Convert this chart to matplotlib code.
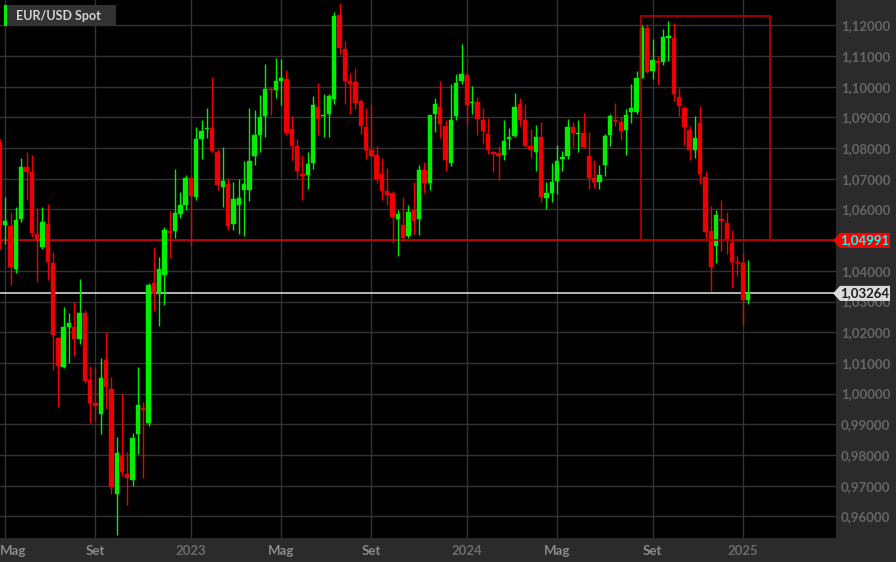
import matplotlib
matplotlib.use('Agg')
import matplotlib.pyplot as plt
import matplotlib.transforms as mtransforms
from matplotlib.patches import Rectangle, Polygon
from matplotlib.ticker import FuncFormatter, FixedLocator
import numpy as np

plt.rcParams['font.family'] = ['Lato', 'DejaVu Sans']

# Weekly EUR/USD candles, Apr 2022 -> Jan 2025
opens = [1.0815, 1.0549, 1.0546, 1.0405, 1.0568, 1.0739, 1.0723, 1.0519, 1.0479, 1.0552,
         1.0424, 1.0182, 1.0088, 1.0216, 1.0217, 1.0179, 1.0261, 1.0044, 0.9970, 0.9933,
         1.0109, 1.0015, 0.9673, 0.9797, 0.9738, 0.9719, 0.9868, 0.9953, 0.9903, 1.0360,
         1.0323, 1.0385, 1.0530, 1.0530, 1.0585, 1.0616, 1.0701, 1.0639, 1.0831, 1.0863,
         1.0865, 1.0788, 1.0673, 1.0684, 1.0551, 1.0616, 1.0664, 1.0662, 1.0775, 1.0843,
         1.0903, 1.0991, 1.0990, 1.1018, 1.1026, 1.0862, 1.0806, 1.0716, 1.0713, 1.0750,
         1.0935, 1.0906, 1.0911, 1.0960, 1.1233, 1.1124, 1.1020, 1.1014, 1.0953, 1.0870,
         1.0795, 1.0778, 1.0715, 1.0661, 1.0653, 1.0570, 1.0550, 1.0514, 1.0597, 1.0568,
         1.0728, 1.0685, 1.0911, 1.0935, 1.0872, 1.0751, 1.0903, 1.1018, 1.1039, 1.0946,
         1.0949, 1.0890, 1.0845, 1.0786, 1.0785, 1.0778, 1.0829, 1.0839, 1.0942, 1.0890,
         1.0808, 1.0788, 1.0837, 1.0637, 1.0655, 1.0693, 1.0763, 1.0773, 1.0868, 1.0846,
         1.0849, 1.0775, 1.0704, 1.0688, 1.0746, 1.0841, 1.0892, 1.0884, 1.0859, 1.0916,
         1.0916, 1.1029, 1.1190, 1.1050, 1.1083, 1.1080, 1.1160, 1.1160, 1.0966, 1.0932,
         1.0860, 1.0794, 1.0883, 1.0707, 1.0530, 1.0481, 1.0569, 1.0557, 1.0491, 1.0430,
         1.0427, 1.0306]
highs = [1.0830, 1.0642, 1.0593, 1.0609, 1.0766, 1.0788, 1.0777, 1.0604, 1.0607, 1.0617,
         1.0462, 1.0185, 1.0281, 1.0261, 1.0297, 1.0372, 1.0271, 1.0091, 1.0082, 1.0115,
         1.0200, 1.0054, 0.9857, 1.0001, 0.9811, 0.9872, 1.0088, 0.9971, 1.0359, 1.0479,
         1.0446, 1.0543, 1.0594, 1.0733, 1.0658, 1.0712, 1.0705, 1.0868, 1.0890, 1.0930,
         1.1032, 1.0797, 1.0803, 1.0704, 1.0691, 1.0698, 1.0758, 1.0930, 1.0924, 1.0972,
         1.1075, 1.0998, 1.1094, 1.1091, 1.1055, 1.0904, 1.0830, 1.0778, 1.0786, 1.0969,
         1.1012, 1.0976, 1.0975, 1.1244, 1.1273, 1.1149, 1.1044, 1.1061, 1.0960, 1.0931,
         1.0944, 1.0808, 1.0768, 1.0735, 1.0660, 1.0598, 1.0639, 1.0614, 1.0691, 1.0745,
         1.0753, 1.0908, 1.0964, 1.1017, 1.0892, 1.1009, 1.1040, 1.1140, 1.1044, 1.1001,
         1.0966, 1.0930, 1.0898, 1.0792, 1.0808, 1.0890, 1.0866, 1.0980, 1.0964, 1.0942,
         1.0862, 1.0875, 1.0884, 1.0688, 1.0750, 1.0810, 1.0791, 1.0895, 1.0884, 1.0890,
         1.0914, 1.0851, 1.0761, 1.0746, 1.0846, 1.0911, 1.0947, 1.0900, 1.0928, 1.1009,
         1.1050, 1.1200, 1.1203, 1.1156, 1.1100, 1.1189, 1.1214, 1.1208, 1.0995, 1.0936,
         1.0871, 1.0905, 1.0936, 1.0726, 1.0610, 1.0598, 1.0630, 1.0593, 1.0532, 1.0447,
         1.0457, 1.0434]
lows = [1.0470, 1.0487, 1.0354, 1.0392, 1.0560, 1.0631, 1.0511, 1.0365, 1.0470, 1.0370,
        1.0077, 0.9957, 1.0082, 1.0099, 1.0124, 1.0162, 1.0033, 0.9903, 0.9912, 0.9867,
        0.9949, 0.9673, 0.9538, 0.9731, 0.9637, 0.9699, 0.9802, 0.9725, 0.9894, 1.0269,
        1.0219, 1.0289, 1.0442, 1.0506, 1.0571, 1.0597, 1.0481, 1.0631, 1.0765, 1.0834,
        1.0786, 1.0664, 1.0609, 1.0534, 1.0532, 1.0521, 1.0515, 1.0628, 1.0745, 1.0786,
        1.0835, 1.0908, 1.0963, 1.0941, 1.0844, 1.0761, 1.0702, 1.0631, 1.0666, 1.0732,
        1.0844, 1.0835, 1.0835, 1.0944, 1.1107, 1.0944, 1.0911, 1.0928, 1.0846, 1.0764,
        1.0770, 1.0685, 1.0630, 1.0615, 1.0489, 1.0448, 1.0497, 1.0508, 1.0521, 1.0516,
        1.0655, 1.0663, 1.0851, 1.0832, 1.0726, 1.0741, 1.0892, 1.1009, 1.0876, 1.0911,
        1.0844, 1.0813, 1.0781, 1.0721, 1.0696, 1.0761, 1.0797, 1.0835, 1.0873, 1.0802,
        1.0768, 1.0726, 1.0623, 1.0601, 1.0623, 1.0650, 1.0726, 1.0764, 1.0802, 1.0786,
        1.0800, 1.0666, 1.0670, 1.0666, 1.0708, 1.0806, 1.0873, 1.0826, 1.0777, 1.0881,
        1.0911, 1.1028, 1.1044, 1.1026, 1.1004, 1.1069, 1.1083, 1.0952, 1.0903, 1.0811,
        1.0761, 1.0768, 1.0683, 1.0497, 1.0334, 1.0424, 1.0463, 1.0454, 1.0343, 1.0382,
        1.0224, 1.0293]
closes = [1.0545, 1.0563, 1.0413, 1.0566, 1.0737, 1.0723, 1.0524, 1.0499, 1.0559, 1.0430,
          1.0190, 1.0091, 1.0217, 1.0229, 1.0179, 1.0261, 1.0042, 0.9968, 0.9959, 1.0050,
          1.0020, 0.9694, 0.9805, 0.9746, 0.9725, 0.9855, 0.9962, 0.9945, 1.0353, 1.0325,
          1.0407, 1.0532, 1.0524, 1.0589, 1.0614, 1.0703, 1.0645, 1.0831, 1.0857, 1.0865,
          1.0791, 1.0679, 1.0692, 1.0546, 1.0633, 1.0636, 1.0682, 1.0758, 1.0842, 1.0900,
          1.0993, 1.0988, 1.1017, 1.1027, 1.0848, 1.0806, 1.0726, 1.0708, 1.0748, 1.0941,
          1.0895, 1.0909, 1.0968, 1.1229, 1.1126, 1.1017, 1.1009, 1.0947, 1.0873, 1.0795,
          1.0775, 1.0699, 1.0661, 1.0648, 1.0574, 1.0585, 1.0508, 1.0592, 1.0563, 1.0728,
          1.0685, 1.0907, 1.0943, 1.0879, 1.0762, 1.0893, 1.1012, 1.1040, 1.0940, 1.0951,
          1.0895, 1.0854, 1.0794, 1.0781, 1.0775, 1.0822, 1.0837, 1.0935, 1.0890, 1.0808,
          1.0794, 1.0837, 1.0641, 1.0653, 1.0691, 1.0759, 1.0772, 1.0868, 1.0848, 1.0850,
          1.0802, 1.0704, 1.0690, 1.0713, 1.0838, 1.0906, 1.0887, 1.0857, 1.0909, 1.0930,
          1.1028, 1.1192, 1.1047, 1.1086, 1.1077, 1.1162, 1.1164, 1.0975, 1.0936, 1.0868,
          1.0795, 1.0833, 1.0717, 1.0528, 1.0413, 1.0581, 1.0563, 1.0500, 1.0429, 1.0425,
          1.0306, 1.03264]

tick_bars = [1, 18, 36, 53, 70, 88, 105, 123, 140]
tick_labels = ['Mag', 'Set', '2023', 'Mag', 'Set', '2024', 'Mag', 'Set', '2025']
price_ticks = [round(0.96 + 0.01 * i, 2) for i in range(17)]

last_price = 1.03264
level_price = 1.04991
box_top = 1.1230
box_start_bar = 120.85
box_end_bar = 145.15

UP = '#00ee00'
DOWN = '#ee0000'

W, H = 896, 562
fig = plt.figure(figsize=(W / 100, H / 100), dpi=100, facecolor='#2b2b2b')
ax = fig.add_axes([0, 24 / H, 836 / W, 538 / H])
ax.set_facecolor('#000000')

o = np.array(opens); h = np.array(highs); l = np.array(lows); c = np.array(closes)
x = np.arange(len(o))
up = c >= o
cols = np.where(up, UP, DOWN)

ax.set_xlim(0, 836 / 5.305)
ax.set_ylim(0.95294, 1.12824)

# grid
for t in price_ticks:
    ax.axhline(t, color='#333333', lw=1, zorder=0)
for t in tick_bars:
    ax.axvline(t, color='#333333', lw=1, zorder=0)

# level lines
ax.axhline(level_price, color='#e00000', lw=1.1, zorder=1)
ax.axhline(last_price, color='#e6e6e6', lw=1.1, zorder=1)

# candles
ax.vlines(x, l, h, colors=cols, lw=1, zorder=2)
body_lo = np.minimum(o, c)
body_h = np.maximum(np.abs(c - o), 0.00025)
ax.bar(x, body_h, bottom=body_lo, width=0.82, color=cols, edgecolor=cols,
       linewidth=0.3, zorder=3)

# highlight rectangle
ax.add_patch(Rectangle((box_start_bar, level_price), box_end_bar - box_start_bar,
                       box_top - level_price, fill=False, ec='#b00000', lw=1.3, zorder=4))

# axes styling
for s in ax.spines.values():
    s.set_visible(False)
ax.yaxis.tick_right()
ax.yaxis.set_major_locator(FixedLocator(price_ticks))
ax.yaxis.set_major_formatter(FuncFormatter(lambda v, p: f"{v:.5f}".replace('.', ',')))
ax.tick_params(axis='y', length=0, pad=3.6, labelsize=9.5, labelcolor='#666666')
ax.xaxis.set_major_locator(FixedLocator(tick_bars))
ax.set_xticklabels(tick_labels)
ax.tick_params(axis='x', length=0, pad=5, labelsize=9.5, labelcolor='#8a8a8a')
for lab in ax.get_yticklabels() + ax.get_xticklabels():
    lab.set_fontweight('bold')
for lab in ax.get_xticklabels():
    if lab.get_text().isdigit():
        lab.set_color('#6c6c6c')
first = ax.get_xticklabels()[0]
first.set_ha('left')
first.set_transform(first.get_transform() + mtransforms.ScaledTranslation(-5.5 / 100, 0, fig.dpi_scale_trans))

# price markers on right axis
blend = mtransforms.blended_transform_factory(fig.transFigure, ax.transData)
hh = 0.00245
def marker(price, fc, tc):
    xs = [833 / W, 840 / W, 890 / W, 890 / W, 840 / W]
    ys = [price, price + hh, price + hh, price - hh, price - hh]
    fig.add_artist(Polygon(list(zip(xs, ys)), closed=True, fc=fc, ec='none',
                           transform=blend, clip_on=False, zorder=5))
    fig.text(865 / W, price, f"{price:.5f}".replace('.', ','), transform=blend,
             ha='center', va='center', color=tc, fontsize=9.5, fontweight='bold', zorder=6)

marker(level_price, '#ff0000', '#00ffff')
marker(last_price, '#dcdcdc', '#1e1e1e')

# legend tag
fig.add_artist(Rectangle((4 / W, 1 - 26 / H), 112 / W, 21 / H, transform=fig.transFigure,
                         fc='#333333', ec='none', zorder=5))
fig.add_artist(Rectangle((4 / W, 1 - 26 / H), 3 / W, 21 / H, transform=fig.transFigure,
                         fc='#00ee00', ec='none', zorder=6))
fig.text(16 / W, 1 - 15.5 / H, 'EUR/USD Spot', color='#d4d4d4', fontsize=9,
         fontweight='bold', ha='left', va='center', zorder=7)

fig.savefig('out.png', dpi=100, facecolor=fig.get_facecolor())
